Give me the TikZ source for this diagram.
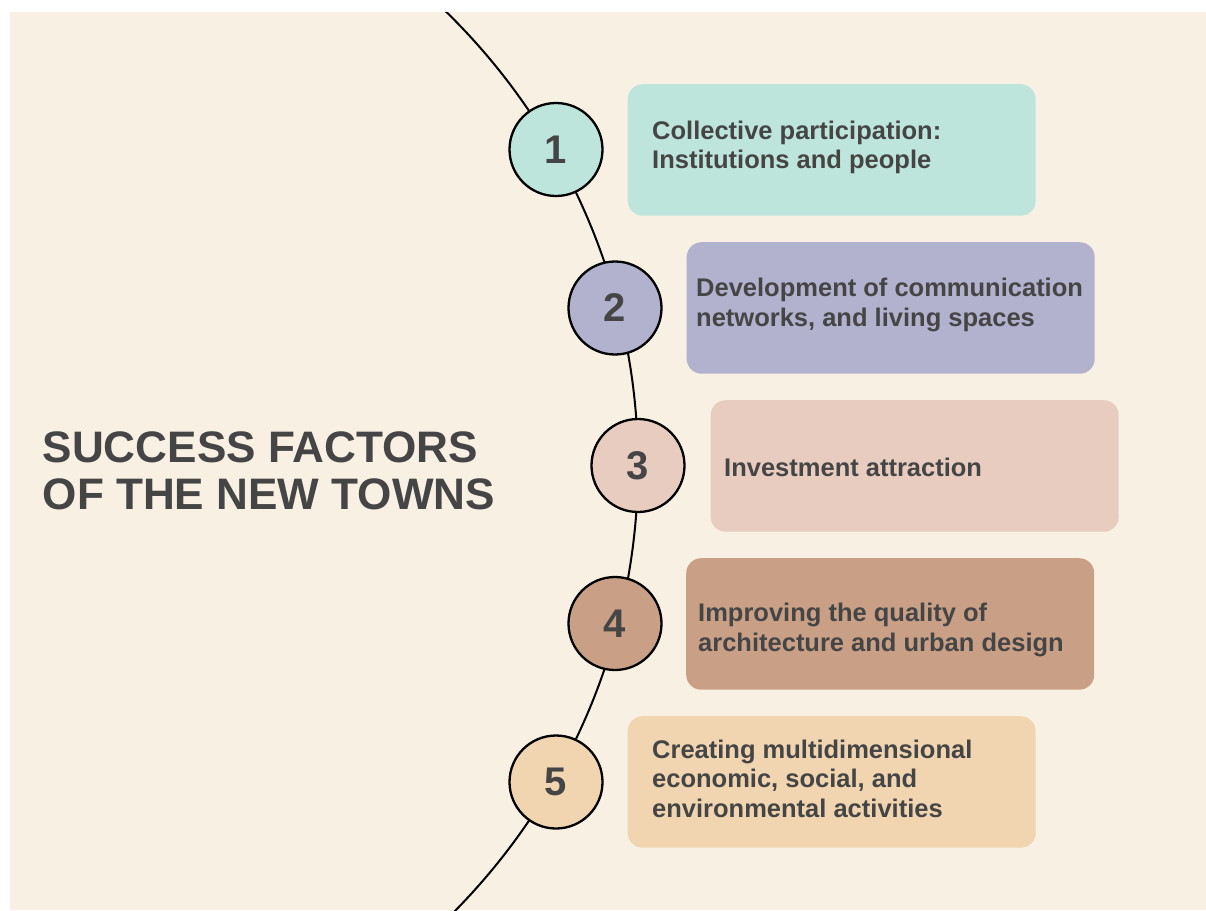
\documentclass[tikz,border=0pt]{standalone}
\usepackage{fontspec}
\setmainfont{Liberation Sans}
\definecolor{bgbeige}{HTML}{F8F0E2}
\definecolor{mint}{HTML}{BDE5DB}
\definecolor{lavender}{HTML}{B2B1CE}
\definecolor{blush}{HTML}{E8CCC0}
\definecolor{clay}{HTML}{C9A086}
\definecolor{sand}{HTML}{F0D5B0}
\definecolor{txtgray}{HTML}{454545}
\begin{document}
\begin{tikzpicture}[x=1pt,y=-1pt,
  numcirc/.style={circle, draw=black, line width=2.3pt, minimum size=93pt, inner sep=0pt,
    text=txtgray, font=\fontsize{40}{40}\selectfont\bfseries},
  factorbox/.style={rectangle, rounded corners=15pt, minimum width=408pt, minimum height=131.5pt,
    inner sep=0pt, anchor=north west},
  bodytext/.style={anchor=base west, inner sep=0pt, text=txtgray,
    font=\fontsize{25.5}{29.5}\selectfont\bfseries},
  titletext/.style={anchor=base west, inner sep=0pt, text=txtgray,
    font=\fontsize{44.1}{46.3}\selectfont\bfseries}
]
\useasboundingbox (0,0) rectangle (1206,910);
\fill[white] (0,0) rectangle (1206,910);
\fill[bgbeige] (10,12) rectangle (1206,910);

% arc
\begin{scope}
  \clip (10,12) rectangle (1206,910);
  \draw[line width=2pt] (-12,465.75) ellipse[x radius=650pt, y radius=640pt];
\end{scope}

% boxes
\node[factorbox, fill=mint]     (b1) at (627.5,84)  {};
\node[factorbox, fill=lavender] (b2) at (686.5,242) {};
\node[factorbox, fill=blush]    (b3) at (710.5,400) {};
\node[factorbox, fill=clay]     (b4) at (686,558)   {};
\node[factorbox, fill=sand]     (b5) at (627.5,716) {};

% circles
\node[numcirc, fill=mint]     (c1) at (556,149.5) {1};
\node[numcirc, fill=lavender] (c2) at (615,308)   {2};
\node[numcirc, fill=blush]    (c3) at (638,465.5) {3};
\node[numcirc, fill=clay]     (c4) at (615,623.5) {4};
\node[numcirc, fill=sand]     (c5) at (556,782)   {5};

% texts
\node[bodytext] (t1) at (652,139.3) {\vtop{\hbox{Collective participation:}\hbox{Institutions and people}}};
\node[bodytext] (t2) at (696,296.7) {\vtop{\hbox{Development of communication}\hbox{networks, and living spaces}}};
\node[bodytext] (t3) at (724,476)   {Investment attraction};
\node[bodytext] (t4) at (698,621.7) {\vtop{\hbox{Improving the quality of}\hbox{architecture and urban design}}};
\node[bodytext] (t5) at (652,758.3) {\vtop{\hbox{Creating multidimensional}\hbox{economic, social, and}\hbox{environmental activities}}};

% title
\node[titletext] (title) at (42.5,462.7) {\vtop{\hbox{SUCCESS FACTORS}\hbox{OF THE NEW TOWNS}}};
\end{tikzpicture}
\end{document}
